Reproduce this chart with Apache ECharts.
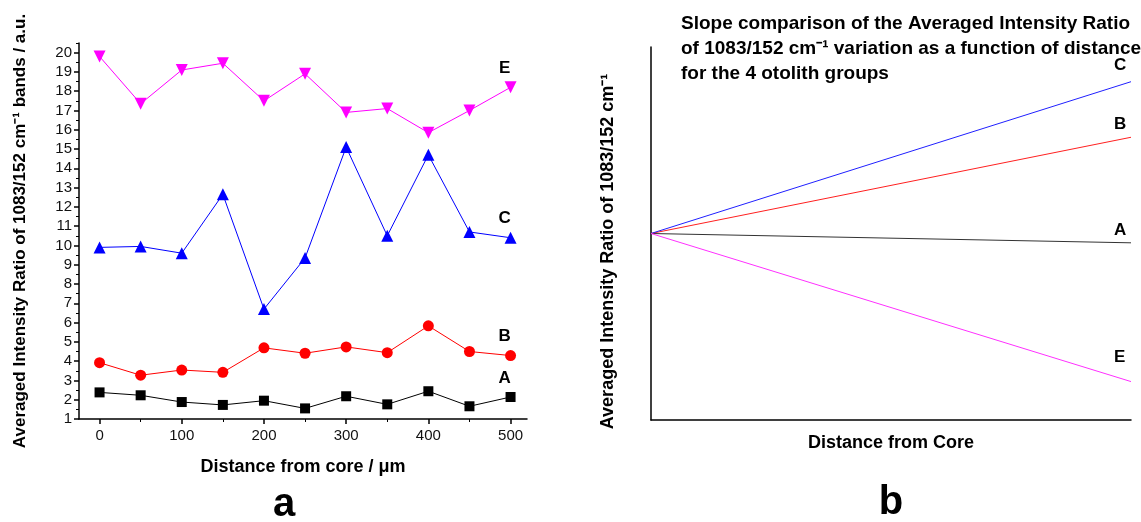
<!DOCTYPE html>
<html>
<head>
<meta charset="utf-8">
<style>
  html, body { margin: 0; padding: 0; background: #fff; }
  #chart { width: 1141px; height: 522px; }
</style>
<script src="https://cdn.jsdelivr.net/npm/echarts@6/dist/echarts.min.js"></script>
</head>
<body>
<div id="chart"></div>
<script>
// panel a: measured ratios vs distance from core
var distance = [0, 50, 100, 150, 200, 250, 300, 350, 400, 450, 500];
var groupA = [2.38, 2.23, 1.88, 1.73, 1.95, 1.55, 2.18, 1.76, 2.44, 1.66, 2.14];
var groupB = [3.92, 3.27, 3.54, 3.42, 4.69, 4.41, 4.74, 4.44, 5.83, 4.50, 4.29];
var groupC = [9.9, 9.95, 9.6, 12.65, 6.7, 9.35, 15.1, 10.5, 14.7, 10.7, 10.4];
var groupE = [19.8, 17.35, 19.1, 19.45, 17.5, 18.9, 16.9, 17.1, 15.85, 17.0, 18.2];

var xMajorTicks = [0, 100, 200, 300, 400, 500];
var xMinorTicks = [50, 150, 250, 350, 450];
var yMajorTicks = [1, 2, 3, 4, 5, 6, 7, 8, 9, 10, 11, 12, 13, 14, 15, 16, 17, 18, 19, 20];
var yMinorTicks = [1.5, 2.5, 3.5, 4.5, 5.5, 6.5, 7.5, 8.5, 9.5, 10.5, 11.5, 12.5, 13.5, 14.5, 15.5, 16.5, 17.5, 18.5, 19.5, 20.5];

// panel b: slope comparison (no scale, relative units)
var slopeGroups = ['A', 'B', 'C', 'E'];
var slopeStart = 5;
var slopeEnds = [4.75, 7.58, 9.07, 1.03];

var FONT = '"Liberation Sans", Arial, sans-serif';
var black = '#000';

function pairs(ys) {
  return distance.map(function (d, i) { return [d, ys[i]]; });
}

function leftSeries(name, ys, color, symbol, size, rotate) {
  var data = pairs(ys);
  var last = data.length - 1;
  data[last] = {
    value: data[last],
    label: {
      show: true, formatter: name, position: 'top', distance: 5, offset: [-6, 0],
      fontFamily: FONT, fontWeight: 'bold', fontSize: 17, color: black
    }
  };
  return {
    name: name, type: 'line', xAxisIndex: 0, yAxisIndex: 0,
    data: data, symbol: symbol, symbolSize: size, symbolRotate: rotate || 0,
    lineStyle: { color: color, width: 1 },
    itemStyle: { color: color },
    z: 3
  };
}

var slopeColors = { A: '#333', B: '#ff2020', C: '#2020ff', E: '#ff30ff' };
var slopeLabelOffset = { A: -13, B: -13, C: -16, E: -24 };

var series = [
  leftSeries('A', groupA, black, 'rect', 10),
  leftSeries('B', groupB, '#ff0000', 'circle', 11),
  leftSeries('C', groupC, '#0000ff', 'triangle', 12),
  leftSeries('E', groupE, '#ff00ff', 'triangle', 12, 180)
];

slopeGroups.forEach(function (g, i) {
  series.push({
    name: 'slope ' + g, type: 'line', xAxisIndex: 2, yAxisIndex: 2,
    data: [[0, slopeStart], [1, slopeEnds[i]]],
    symbol: 'none',
    lineStyle: { color: slopeColors[g], width: 1 },
    endLabel: {
      show: true, formatter: g, distance: 0, offset: [-17, slopeLabelOffset[g]],
      fontFamily: FONT, fontWeight: 'bold', fontSize: 17, color: black
    }
  });
});

var axisLine = { show: true, onZero: false, lineStyle: { color: black, width: 1.5 } };
var tickLabel = { fontFamily: FONT, fontSize: 15, color: '#111' };
function nameStyle(size) {
  return { fontFamily: FONT, fontWeight: 'bold', fontSize: size, color: black };
}

var myChart = echarts.init(document.getElementById('chart'));
var option = {
  animation: false,
  backgroundColor: '#fff',
  title: [{
    text: 'Slope comparison of the Averaged Intensity Ratio\nof 1083/152 cm⁻¹ variation as a function of distance\nfor the 4 otolith groups',
    left: 676, top: 6,
    textStyle: { fontFamily: FONT, fontWeight: 'bold', fontSize: 19, lineHeight: 25, color: black }
  }],
  graphic: [
    { type: 'text', x: 284, y: 505, style: { text: 'a', textAlign: 'center', textVerticalAlign: 'middle', font: 'bold 40px ' + FONT, fill: black } },
    { type: 'text', x: 891, y: 503, style: { text: 'b', textAlign: 'center', textVerticalAlign: 'middle', font: 'bold 40px ' + FONT, fill: black } }
  ],
  grid: [
    { left: 79, top: 43, width: 448, height: 376 },
    { left: 651, top: 47, width: 480, height: 373 }
  ],
  xAxis: [
    {
      gridIndex: 0, type: 'value', min: -25, max: 520, position: 'bottom',
      axisLine: axisLine,
      axisTick: { show: true, customValues: xMajorTicks, length: 5, lineStyle: { color: black, width: 1.5 } },
      axisLabel: Object.assign({ customValues: xMajorTicks, margin: 9 }, tickLabel),
      splitLine: { show: false },
      name: 'Distance from core / μm', nameLocation: 'middle', nameGap: 39,
      nameTextStyle: nameStyle(18)
    },
    {
      gridIndex: 0, type: 'value', min: -25, max: 520, position: 'bottom',
      axisLine: { show: false, onZero: false },
      axisTick: { show: true, customValues: xMinorTicks, length: 3, lineStyle: { color: black, width: 1 } },
      axisLabel: { show: false },
      splitLine: { show: false }
    },
    {
      gridIndex: 1, type: 'value', min: 0, max: 1, position: 'bottom',
      axisLine: axisLine, axisTick: { show: false }, axisLabel: { show: false },
      splitLine: { show: false },
      name: 'Distance from Core', nameLocation: 'middle', nameGap: 14,
      nameTextStyle: nameStyle(18)
    }
  ],
  yAxis: [
    {
      gridIndex: 0, type: 'value', min: 1, max: 20.5, position: 'left',
      axisLine: axisLine,
      axisTick: { show: true, customValues: yMajorTicks, length: 5, lineStyle: { color: black, width: 1.5 } },
      axisLabel: Object.assign({ customValues: yMajorTicks, margin: 7 }, tickLabel),
      splitLine: { show: false },
      name: 'Averaged Intensity Ratio of 1083/152 cm⁻¹ bands / a.u.',
      nameLocation: 'middle', nameGap: 50,
      nameTextStyle: nameStyle(17)
    },
    {
      gridIndex: 0, type: 'value', min: 1, max: 20.5, position: 'left',
      axisLine: { show: false, onZero: false },
      axisTick: { show: true, customValues: yMinorTicks, length: 3, lineStyle: { color: black, width: 1 } },
      axisLabel: { show: false },
      splitLine: { show: false }
    },
    {
      gridIndex: 1, type: 'value', min: 0, max: 10, position: 'left',
      axisLine: axisLine, axisTick: { show: false }, axisLabel: { show: false },
      splitLine: { show: false },
      name: 'Averaged Intensity Ratio of 1083/152 cm⁻¹',
      nameLocation: 'middle', nameGap: 34,
      nameTextStyle: Object.assign(nameStyle(18), { padding: [0, 36, 0, 0] })
    }
  ],
  series: series
};
myChart.setOption(option);
window.addEventListener('resize', function () {
  myChart.resize();
});
</script>
</body>
</html>
